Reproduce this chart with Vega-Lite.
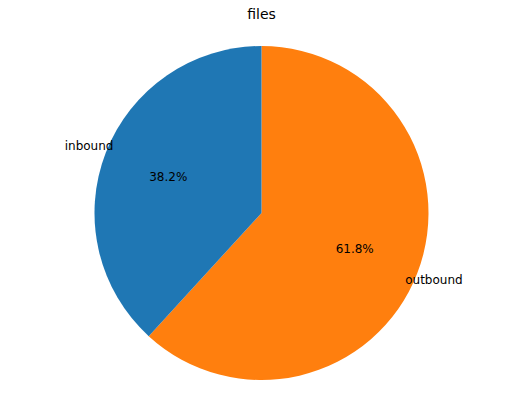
{
  "$schema": "https://vega.github.io/schema/vega-lite/v6.json",
  "autosize": "none",
  "width": 523,
  "height": 366,
  "padding": {"top": 30, "left": 0, "right": 0, "bottom": 0},
  "background": "white",
  "title": {"text": "files", "font": "DejaVu Sans", "fontSize": 14, "fontWeight": "normal", "offset": 8},
  "config": {"view": {"stroke": null}},
  "data": {"values": [
    {"category": "outbound", "value": 61.8, "pct": "61.8%", "ord": 1},
    {"category": "inbound", "value": 38.2, "pct": "38.2%", "ord": 2}
  ]},
  "encoding": {
    "theta": {"field": "value", "type": "quantitative", "stack": true},
    "order": {"field": "ord", "type": "quantitative"}
  },
  "layer": [
    {
      "mark": {"type": "arc", "outerRadius": 167},
      "encoding": {
        "color": {"field": "category", "type": "nominal",
          "scale": {"domain": ["inbound", "outbound"], "range": ["#1f77b4", "#ff7f0e"]},
          "legend": null}
      }
    },
    {
      "mark": {"type": "text", "radius": 100, "font": "DejaVu Sans", "fontSize": 12, "color": "black"},
      "encoding": {"text": {"field": "pct"}}
    },
    {
      "mark": {"type": "text", "radius": 185, "font": "DejaVu Sans", "fontSize": 12, "color": "black"},
      "encoding": {"text": {"field": "category"}}
    }
  ]
}
